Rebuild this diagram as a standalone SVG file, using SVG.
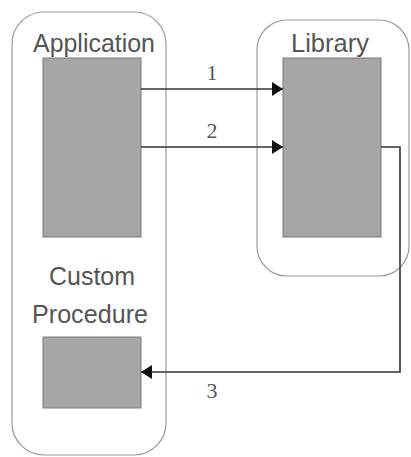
<svg xmlns="http://www.w3.org/2000/svg" width="411" height="457" viewBox="0 0 411 457">
<defs>
<style>
.cont{fill:none;stroke:#9a9a9a;stroke-width:1.2}
.box{fill:#a6a6a6;stroke:#7a7a7a;stroke-width:1}
.lbl{font-family:"Liberation Sans",Arial,sans-serif;font-size:26px;fill:#555;text-anchor:middle}
.num{font-family:"Liberation Serif","Times New Roman",serif;font-size:22px;fill:#555;text-anchor:middle}
.conn{fill:none;stroke:#333;stroke-width:1.6}
</style>
<marker id="ah2" viewBox="0 0 11 14" refX="11" refY="7" markerWidth="11" markerHeight="14" markerUnits="userSpaceOnUse" orient="auto">
<path d="M0,0 L11,7 L0,14 z" fill="#111"/>
</marker>
</defs>
<g id="application">
<rect class="cont" x="12" y="12" width="154" height="443" rx="32" ry="32"/>
<text class="lbl" x="94" y="52" textLength="122" lengthAdjust="spacingAndGlyphs">Application</text>
<rect class="box" x="43" y="58" width="98" height="179"/>
</g>
<g id="custom-procedure">
<text class="lbl" x="92" y="285" textLength="86" lengthAdjust="spacingAndGlyphs">Custom</text>
<text class="lbl" x="90" y="323" textLength="116" lengthAdjust="spacingAndGlyphs">Procedure</text>
<rect class="box" x="43" y="337" width="98" height="71"/>
</g>
<g id="library">
<rect class="cont" x="257" y="20" width="152" height="256" rx="30" ry="30"/>
<text class="lbl" x="330" y="52" textLength="78" lengthAdjust="spacingAndGlyphs">Library</text>
<rect class="box" x="283" y="58" width="98" height="179"/>
</g>
<g id="connectors">
<path class="conn" d="M141,89 H283" marker-end="url(#ah2)"/>
<path class="conn" d="M141,147 H283" marker-end="url(#ah2)"/>
<path class="conn" d="M381,147 H400 V372 H141" marker-end="url(#ah2)"/>
<text class="num" x="212" y="80">1</text>
<text class="num" x="212" y="138">2</text>
<text class="num" x="212" y="398">3</text>
</g>
</svg>
